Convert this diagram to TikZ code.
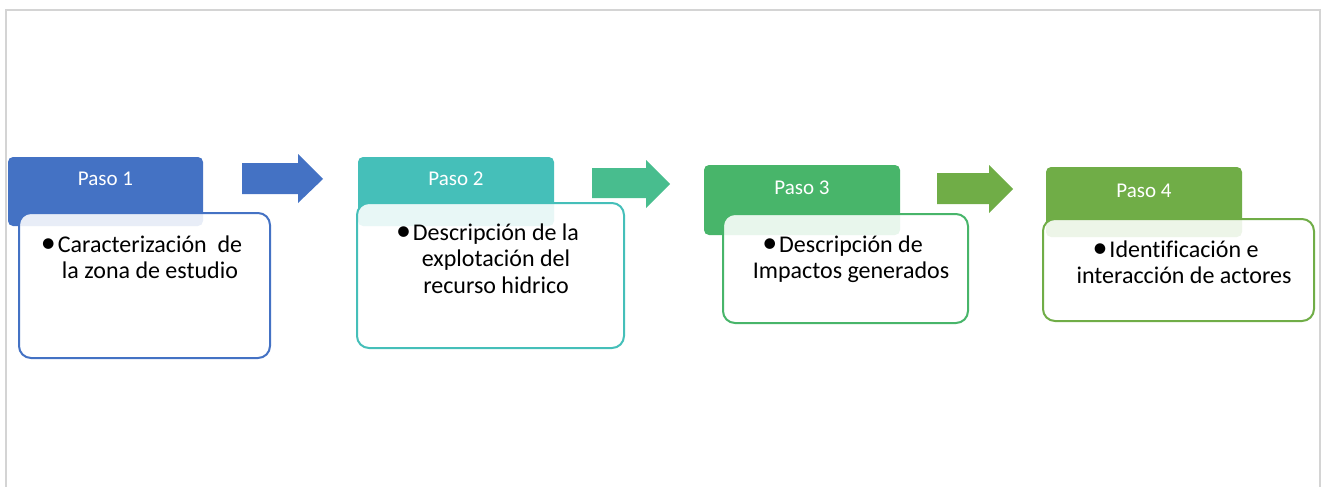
\documentclass[tikz,border=0pt]{standalone}
\usepackage{fontspec}
\setmainfont[Ligatures={NoCommon}]{Carlito}
\definecolor{cA}{HTML}{4472C4}
\definecolor{cB}{HTML}{45BFB9}
\definecolor{cC}{HTML}{48B56A}
\definecolor{cD}{HTML}{70AD47}
\definecolor{aB}{HTML}{48BD8E}
\definecolor{frameg}{HTML}{D4D4D4}
\tikzset{
  hdr/.style={fill=#1, draw=none, rounded corners=5pt, inner sep=0pt, outer sep=0pt, anchor=north west},
  bodybox/.style={draw=#1, line width=2pt, fill=white, fill opacity=0.88, draw opacity=1, rounded corners=12pt, inner sep=0pt, outer sep=0pt, anchor=north west},
  hlabel/.style={anchor=base, inner sep=0pt, text=white, font=\fontsize{21}{25}\selectfont},
  btext/.style={anchor=base, inner sep=0pt, text=black, font=\fontsize{24}{26.5}\selectfont},
  arrowshape/.style={fill=#1, draw=none}
}
\newcommand{\blines}[1]{\setlength\tabcolsep{0pt}\begin{tabular}[t]{c}#1\end{tabular}}
\newcommand{\bul}{\llap{\raisebox{-0.5pt}{\scalebox{1.25}{•}}\hspace{2pt}}}
\begin{document}
\begin{tikzpicture}[x=1pt,y=-1pt]
\useasboundingbox (0,0) rectangle (1326,487);
% frame
\draw[frameg, line width=1.5pt] (6,487) -- (6,10) -- (1320,10) -- (1320,487);
% step 1
\node[hdr=cA, minimum width=195pt, minimum height=69pt] (h1) at (8,157) {};
\node[bodybox=cA, minimum width=251pt, minimum height=145pt] (b1) at (19,213) {};
\node[hlabel] (p1) at (105.5,185) {Paso 1};
\node[btext] (t1) at (150,252) {\blines{\bul Caracterización\ \ de\\la zona de estudio}};
% step 2
\node[hdr=cB, minimum width=196pt, minimum height=69pt] (h2) at (358,157) {};
\node[bodybox=cB, minimum width=267pt, minimum height=145pt] (b2) at (357,203) {};
\node[hlabel] (p2) at (456,185) {Paso 2};
\node[btext] (t2) at (496,240) {\blines{\bul Descripción de la\\explotación del\\recurso hidrico}};
% step 3
\node[hdr=cC, minimum width=196pt, minimum height=70pt] (h3) at (704,165) {};
\node[bodybox=cC, minimum width=245pt, minimum height=109pt] (b3) at (723,214) {};
\node[hlabel] (p3) at (802,194) {Paso 3};
\node[btext] (t3) at (851,252) {\blines{\bul Descripción de\\Impactos generados}};
% step 4
\node[hdr=cD, minimum width=196pt, minimum height=70pt] (h4) at (1046,167) {};
\node[bodybox=cD, minimum width=271pt, minimum height=102pt] (b4) at (1043,219) {};
\node[hlabel] (p4) at (1144,197) {Paso 4};
\node[btext] (t4) at (1184,257) {\blines{\bul Identificación e\\interacción de actores}};
% arrows
\fill[arrowshape=cA] (242,163) -- (298,163) -- (298,154) -- (323,179) -- (298,203) -- (298,194) -- (242,194) -- cycle;
\fill[arrowshape=aB] (592,168) -- (646,168) -- (646,160) -- (670,184) -- (646,208) -- (646,198) -- (592,198) -- cycle;
\fill[arrowshape=cD] (937,173) -- (989,173) -- (989,165) -- (1013,189) -- (989,213) -- (989,204) -- (937,204) -- cycle;
\end{tikzpicture}
\end{document}
